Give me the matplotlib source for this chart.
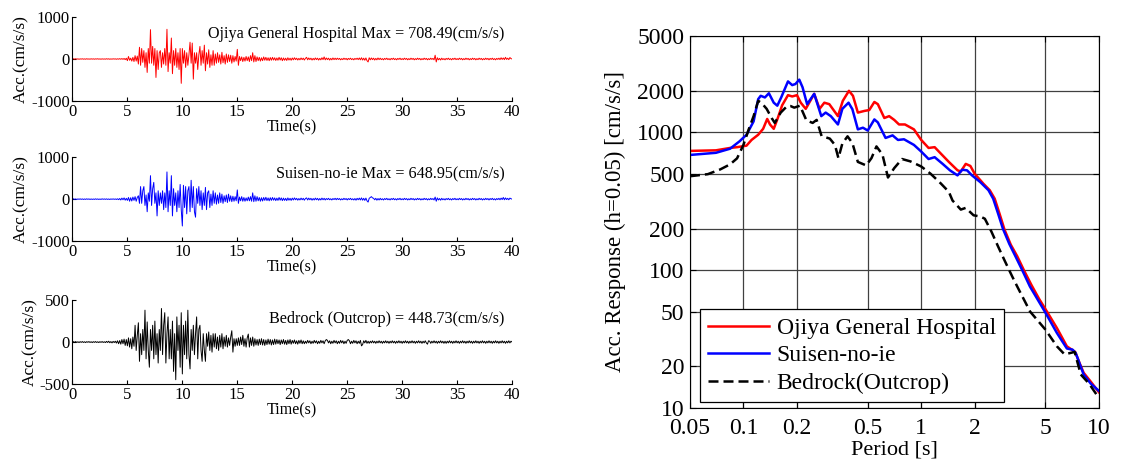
import numpy as np
import matplotlib
matplotlib.use('Agg')
import matplotlib.pyplot as plt

plt.rcParams['font.family'] = ['Liberation Serif', 'DejaVu Serif']
plt.rcParams['axes.unicode_minus'] = False

# ---- time histories (dt = 0.1 s) ----
dt = 0.1

ojiya_acc = [
    0, 5, -4, 6, -3, 4, -6, 3, -2, 5,
    -4, 3, -5, 6, -3, 2, -4, 5, -3, 4,
    -5, 4, -2, 6, -4, 3, -5, 4, -3, 2,
    -4, 6, -3, 5, -6, 3, -4, 5, -2, 4,
    -6, 5, -4, 8, -6, 10, -8, 12, -15, 18,
    -40, 60, -30, 20, -50, 40, -60, 80, -50, 70,
    -120, 280, -150, 250, -80, 200, -200, 150, -320, 250,
    -100, 700, -100, 300, -150, 250, -440, 200, -250, 150,
    200, -200, 150, -120, 250, -150, 708.49, -300, 150, -100,
    500, -350, 200, -150, 250, -200, 150, -250, 250, -580,
    250, -100, 200, -200, 150, -150, 100, 400, -100, 380,
    -480, 150, -100, 150, -250, 100, 300, -150, 200, -100,
    330, -280, 150, -120, 220, -200, 100, -150, 200, -150,
    120, -100, 150, -80, 100, -120, 160, -90, 80, -120,
    120, -80, 100, -60, 90, -100, 80, -70, 60, -50,
    230, -150, 60, -40, 50, -60, 40, -50, 60, -40,
    50, -60, 80, -40, 150, -70, 80, -60, 50, -40,
    40, -50, 30, -40, 50, -30, 40, -35, 30, -40,
    35, -30, 40, -25, 30, -35, 25, -30, 40, -25,
    30, -40, 25, -30, 20, -35, 30, -25, 20, -30,
    25, -20, 30, -15, 20, -25, 15, -20, 25, -15,
    20, -25, 15, 40, -20, 25, -15, 20, -25, 15,
    -20, 25, -15, 20, -25, 15, -20, 30, -15, 50,
    -20, 25, -15, 20, -25, 15, -20, 25, -15, 20,
    -15, 20, -10, 15, -20, 10, -15, 20, -10, 15,
    -20, 15, -10, 20, -15, 10, -20, 15, -10, 20,
    -15, 25, -20, 30, -25, 20, -30, 25, -40, -70,
    30, -20, 25, -15, 20, -25, 15, -20, 25, -15,
    20, -15, 10, -20, 15, -10, 20, -15, 10, -20,
    15, -10, 20, -15, 10, -20, 15, -10, 20, -15,
    10, -15, 20, -10, 15, -20, 10, -15, 20, -10,
    15, -20, 10, -15, 20, -10, 15, -20, 10, -15,
    20, -10, 15, -20, 10, -15, 20, -10, 15, -20,
    90, -70, 30, -20, 15, -25, 20, -15, 10, -20,
    15, -10, 20, -15, 10, -20, 15, -10, 20, -15,
    10, -15, 20, -10, 15, -20, 10, -15, 20, -10,
    15, -20, 10, -15, 20, -10, 15, -20, 10, -15,
    20, -10, 15, -20, 10, -15, 20, -10, 15, -20,
    15, -10, 20, -15, 10, -20, 15, -10, 20, -15,
    30, -10, 25, -15, 40, -10, 20, -15, 35, 10,
    0]

suisen_acc = [
    0, 8, -6, 5, -8, 6, -4, 7, -5, 6,
    -7, 5, -6, 8, -4, 6, -7, 5, -6, 4,
    -6, 8, -5, 6, -7, 4, -6, 8, -4, 6,
    -5, 7, -6, 5, -8, 6, -4, 7, -5, 6,
    -8, 10, -12, 15, -20, 25, -15, 30, -25, 20,
    -30, 40, -50, 35, -45, 50, -30, 60, -50, 40,
    80, -100, 300, -100, 200, 300, -150, 100, -300, 150,
    -50, 560, -150, 250, 400, -100, 150, -400, 200, -150,
    150, -100, 200, -250, 150, -200, 648.95, -300, 200, -150,
    560, -400, 250, -150, 150, -300, 200, -200, 350, -250,
    -640, 330, -200, 300, -350, 200, 300, -300, 450, -200,
    300, -300, -430, 250, -100, 300, -150, 200, -250, 150,
    -150, 280, -250, 150, 200, -200, 120, -150, 200, -100,
    150, -120, 100, -100, 150, -80, 120, -100, 80, -60,
    100, -80, 120, -50, 80, -60, 70, -50, 60, -40,
    220, -100, 50, -40, 60, -50, 40, -50, 30, -40,
    50, -40, 60, -50, 150, -60, 80, -50, 60, -40,
    40, -50, 35, -45, 40, -30, 45, -35, 30, -40,
    35, -30, 40, -25, 30, -35, 25, -30, 40, -25,
    30, -35, 25, -30, 20, -35, 30, -25, 20, -30,
    25, -20, 30, -15, 20, -25, 15, -20, 25, -15,
    20, -25, 15, 30, -20, 25, -15, 20, -25, 15,
    -20, 25, -15, 20, -25, 15, -20, 25, -15, 20,
    -20, 15, -10, 20, -15, 10, -20, 15, -10, 20,
    -15, 20, -10, 15, -20, 10, -15, 20, -10, 15,
    -20, 15, -10, 20, -15, 10, -20, 15, -25, 20,
    -15, 25, -20, 30, -25, 20, -30, 25, -40, -70,
    20, 40, 60, 30, 20, -15, 20, -25, 15, -20,
    20, -15, 10, -20, 15, -10, 20, -15, 10, -20,
    15, -10, 20, -15, 10, -20, 15, -10, 20, -15,
    10, -15, 20, -10, 15, -20, 10, -15, 20, -10,
    15, -20, 10, -15, 20, -10, 15, -20, 10, -15,
    20, -10, 15, -20, 10, -15, 20, -10, 15, -20,
    50, -50, 30, -20, 15, -25, 20, -15, 10, -20,
    15, -10, 20, -15, 10, -20, 15, -10, 20, -15,
    10, -15, 20, -10, 15, -20, 10, -15, 20, -10,
    15, -20, 10, -15, 20, -10, 15, -20, 10, -15,
    20, -10, 15, -20, 10, -15, 20, -10, 15, -20,
    15, -10, 20, -15, 10, -20, 15, -10, 20, -15,
    25, -10, 40, -15, 30, -10, 20, -15, 25, 10,
    0]

bedrock_acc = [
    0, 5, -4, 6, -5, 4, -6, 5, -4, 6,
    -5, 4, -6, 5, -3, 6, -5, 4, -6, 5,
    -4, 6, -5, 4, -6, 5, -4, 6, -5, 4,
    -6, 8, -5, 10, -8, 6, -10, 8, -6, 10,
    -12, 15, -20, 18, -25, 30, -20, 35, -40, 30,
    -45, 50, -60, 40, -80, 60, -50, 200, -100, 80,
    230, -230, 100, -150, 150, -100, 380, -200, 240, -100,
    -300, 150, -100, 200, -200, 250, -150, 100, -250, 150,
    -100, 400, -150, 200, 350, -250, 100, 300, -200, 150,
    -200, 250, -350, 100, -448.73, 300, -100, 200, -300, 350,
    -380, 200, -150, 250, -200, 380, -150, -320, 150, -100,
    200, -150, 100, 300, -200, 150, 200, -100, -230, 100,
    -100, -230, 100, -50, 120, -100, 80, -120, 100, -60,
    100, -80, 60, -100, 80, -60, 100, -80, 60, -50,
    80, -60, 50, -40, 60, 135, -120, 40, -50, 40,
    -40, 50, -40, 60, -30, 80, -50, 40, -60, 50,
    95, -60, 50, -40, 60, -50, 40, -35, 30, -40,
    35, -30, 40, -35, 30, -40, 25, -30, 35, -25,
    30, -35, 25, -30, 35, -25, 30, -20, 25, -30,
    25, -20, 30, -25, 20, -30, 25, -20, 30, -25,
    20, -15, 25, -20, 15, -25, 20, -15, 25, -20,
    15, -20, 10, -15, 20, -10, 15, -20, 10, -15,
    20, -10, 15, -20, 10, -15, 20, -10, 15, -20,
    15, 30, 20, -10, 15, -20, 10, -15, 20, -10,
    15, -20, 10, -15, 20, -10, 15, -20, 10, -15,
    20, 30, 15, -20, 10, -15, 20, -10, 15, -20,
    10, -15, 20, -45, -30, 15, -10, 20, -15, 10,
    -15, 10, -10, 15, -10, 10, -15, 10, -10, 15,
    -10, 10, -15, 10, -10, 15, -10, 10, -15, 10,
    -10, 15, -10, 10, -15, 10, -10, 15, -10, 10,
    -15, 10, -10, 15, -10, 10, -15, 10, -10, 15,
    -10, 10, -15, 10, -10, 15, -10, 10, -15, 10,
    -10, 15, -10, -25, 15, 10, -15, 10, -10, 15,
    -10, 10, -15, 10, -10, 15, -10, 10, -15, 10,
    -15, 10, -10, 15, -10, 10, -15, 10, -10, 15,
    -10, 10, -15, 10, -10, 15, -10, 10, -15, 10,
    -10, 15, -10, 10, -15, 10, -10, 15, -10, 10,
    -15, 10, -10, 15, -10, 10, -15, 10, -10, 15,
    -10, 10, -15, 10, -10, 15, -10, 10, -15, 10,
    -10, 15, -10, 10, -15, 10, -10, 15, -10, 10,
    0]

# ---- acceleration response spectra, h = 0.05 ----
ojiya_T = [0.05, 0.07, 0.084, 0.092, 0.104, 0.111, 0.121, 0.129, 0.136, 0.141,
           0.148, 0.156, 0.165, 0.178, 0.188, 0.200, 0.210, 0.224, 0.250, 0.268,
           0.285, 0.304, 0.340, 0.362, 0.392, 0.413, 0.440, 0.480, 0.510, 0.545,
           0.570, 0.620, 0.660, 0.705, 0.750, 0.810, 0.910, 1.00, 1.10, 1.19,
           1.29, 1.43, 1.60, 1.67, 1.78, 1.89, 2.00, 2.24, 2.43, 2.59,
           2.76, 2.94, 3.19, 3.47, 3.78, 4.17, 4.60, 5.10, 5.80, 6.60,
           7.35, 7.80, 8.20, 9.00, 10.0]
ojiya_Sa = [733, 740, 770, 780, 800, 880, 960, 1060, 1250, 1140,
            1060, 1270, 1570, 1860, 1820, 1860, 1640, 1480, 1900, 1480,
            1640, 1600, 1310, 1690, 2000, 1840, 1390, 1430, 1450, 1660,
            1600, 1270, 1310, 1230, 1140, 1140, 1050, 880, 770, 780,
            700, 610, 530, 520, 590, 570, 500, 423, 380, 330,
            256, 197, 153, 126, 100, 78, 62, 50, 38, 28,
            25.5, 21, 18, 15.5, 13]

suisen_T = [0.05, 0.07, 0.084, 0.095, 0.104, 0.114, 0.121, 0.125, 0.132, 0.139,
            0.148, 0.155, 0.163, 0.178, 0.188, 0.196, 0.206, 0.215, 0.228, 0.25,
            0.274, 0.29, 0.31, 0.34, 0.36, 0.39, 0.41, 0.44, 0.47, 0.50,
            0.545, 0.57, 0.63, 0.69, 0.74, 0.80, 0.91, 1.00, 1.10, 1.19,
            1.32, 1.45, 1.60, 1.70, 1.81, 1.93, 2.15, 2.39, 2.54, 2.71,
            2.88, 3.13, 3.40, 3.70, 4.09, 4.96, 5.80, 6.60, 7.10, 7.40,
            8.20, 9.00, 10.0]
suisen_Sa = [685, 710, 760, 860, 960, 1200, 1740, 1840, 1790, 1920,
             1640, 1560, 1790, 2340, 2200, 2240, 2410, 2120, 1600, 1900,
             1310, 1390, 1310, 1140, 1480, 1640, 1470, 1050, 1080, 1030,
             1240, 1180, 910, 950, 880, 890, 810, 725, 640, 660,
             590, 530, 487, 535, 530, 487, 435, 380, 330, 256,
             200, 155, 125, 100, 76, 50, 35, 27, 26.5, 25,
             17.5, 15, 13.3]

bedrock_T = [0.05, 0.063, 0.074, 0.084, 0.092, 0.100, 0.107, 0.114, 0.121, 0.126,
             0.135, 0.144, 0.150, 0.162, 0.176, 0.184, 0.193, 0.208, 0.226, 0.245,
             0.258, 0.275, 0.306, 0.327, 0.342, 0.360, 0.385, 0.410, 0.440, 0.490,
             0.525, 0.560, 0.605, 0.650, 0.705, 0.780, 0.870, 1.00, 1.13, 1.29,
             1.43, 1.50, 1.67, 1.78, 1.97, 2.15, 2.28, 2.48, 2.71, 2.94,
             3.25, 3.47, 4.10, 5.00, 5.80, 6.40, 7.30, 7.90, 8.80, 10.0]
bedrock_Sa = [480, 497, 538, 585, 647, 812, 1050, 1310, 1690, 1640,
              1480, 1270, 1170, 1390, 1550, 1550, 1510, 1560, 1220, 1170,
              1230, 940, 900, 810, 650, 830, 935, 835, 610, 575,
              650, 790, 690, 470, 550, 640, 615, 565, 500, 425,
              370, 320, 275, 283, 250, 245, 236, 191, 148, 118,
              90, 76, 50, 37, 28, 24.5, 25.5, 17.5, 15, 11.8]

period_ticks = [0.05, 0.1, 0.2, 0.5, 1, 2, 5, 10]
period_labels = ['0.05', '0.1', '0.2', '0.5', '1', '2', '5', '10']
sa_ticks = [10, 20, 50, 100, 200, 500, 1000, 2000, 5000]

fig = plt.figure(figsize=(11.23, 4.61), dpi=100)

# left: three time histories
traces = [
    (ojiya_acc, 'r', 1000, 'Ojiya General Hospital Max = 708.49(cm/s/s)', 600, 0.781),
    (suisen_acc, 'b', 1000, 'Suisen-no-ie Max = 648.95(cm/s/s)', 600, 0.477),
    (bedrock_acc, 'k', 500, 'Bedrock (Outcrop) = 448.73(cm/s/s)', 275, 0.167),
]
for acc, col, lim, label, ytxt, bot in traces:
    ax = fig.add_axes([0.0645, bot, 0.3915, 0.182])
    t = np.arange(len(acc)) * dt
    ax.plot(t, acc, color=col, lw=0.7)
    ax.set_xlim(0, 40)
    ax.set_ylim(-lim, lim)
    ax.set_xticks(np.arange(0, 41, 5))
    ax.set_yticks([-lim, 0, lim])
    ax.spines['top'].set_visible(False)
    ax.spines['right'].set_visible(False)
    ax.tick_params(direction='in', length=3, labelsize=12, pad=2)
    ax.set_xlabel('Time(s)', fontsize=11.5, labelpad=0)
    ax.set_ylabel('Acc.(cm/s/s)', fontsize=12.5, labelpad=1)
    ax.text(39.3, ytxt, label, ha='right', va='center', fontsize=11.6)

# right: response spectra
ax = fig.add_axes([0.6144, 0.115, 0.3642, 0.807])
ax.plot(ojiya_T, ojiya_Sa, color='r', lw=1.8, label='Ojiya General Hospital')
ax.plot(suisen_T, suisen_Sa, color='b', lw=1.8, label='Suisen-no-ie')
ax.plot(bedrock_T, bedrock_Sa, color='k', lw=1.8, ls=(0, (4, 2)),
        label='Bedrock(Outcrop)')
ax.set_xscale('log')
ax.set_yscale('log')
ax.set_xlim(0.05, 10)
ax.set_ylim(10, 5000)
ax.set_xticks(period_ticks)
ax.set_xticklabels(period_labels)
ax.set_yticks(sa_ticks)
ax.set_yticklabels([str(v) for v in sa_ticks])
ax.minorticks_off()
ax.grid(True, color='0.25', lw=0.9)
ax.tick_params(direction='in', length=4, labelsize=17, top=True, right=True)
ax.tick_params(axis='x', pad=7)
ax.tick_params(axis='y', pad=4)
ax.set_xlabel('Period [s]', fontsize=16, labelpad=1)
ax.set_ylabel('Acc. Response (h=0.05) [cm/s/s]', fontsize=16.5, labelpad=8)
leg = ax.legend(loc='lower left', bbox_to_anchor=(0.024, 0.016), borderaxespad=0,
                fontsize=17, handlelength=2.6, handletextpad=0.3,
                labelspacing=0.25, borderpad=0.35, fancybox=False,
                framealpha=1, edgecolor='k')
leg.get_frame().set_linewidth(0.9)

fig.savefig('out.png', dpi=100)
